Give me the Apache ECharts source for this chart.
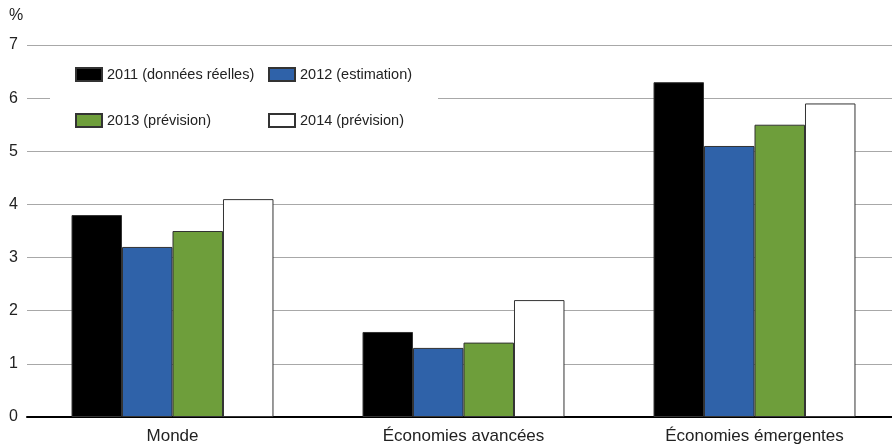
<!DOCTYPE html>
<html><head><meta charset="utf-8">
<script src="https://cdn.jsdelivr.net/npm/echarts@6/dist/echarts.min.js"></script>
<style>html,body{margin:0;padding:0;background:#fff}#c{width:892px;height:448px}</style>
</head><body><div id="c"></div>
<script>
const categories = ['Monde', 'Économies avancées', 'Économies émergentes'];
const seriesNames = ['2011 (données réelles)', '2012 (estimation)', '2013 (prévision)', '2014 (prévision)'];
const v2011 = [3.8, 1.6, 6.3];
const v2012 = [3.2, 1.3, 5.1];
const v2013 = [3.5, 1.4, 5.5];
const v2014 = [4.1, 2.2, 5.9];
const yTicks = [0, 1, 2, 3, 4, 5, 6, 7];
const colors = ['#000000', '#2f62a9', '#6e9e3b', '#ffffff'];
const values = [v2011, v2012, v2013, v2014];

const chart = echarts.init(document.getElementById('c'));
const font = 'Liberation Sans, Arial, sans-serif';
const legendPos = [[75, 67], [268, 67], [75, 113], [268, 113]];
chart.setOption({
  animation: false,
  textStyle: { fontFamily: font },
  graphic: [
    { type: 'rect', z: 5, shape: { x: 50, y: 57, width: 388, height: 78 }, style: { fill: '#fff' } },
    { type: 'text', left: 9, top: 8, style: { text: '%', font: '16px ' + font, fill: '#222' } }
  ],
  legend: seriesNames.map((n, i) => ({
    data: [{ name: n, icon: 'rect' }], left: legendPos[i][0], top: legendPos[i][1], itemWidth: 26, itemHeight: 13, itemGap: 0,
    z: 10, textStyle: { fontSize: 14.5, color: '#222', fontFamily: font, padding: [0, 0, 0, 0] }, padding: 0,
    selectedMode: false
  })),
  grid: { left: 27, width: 873, top: 45, height: 372, outerBoundsMode: 'none', containLabel: false },
  xAxis: {
    type: 'category', data: categories,
    axisLine: { lineStyle: { color: '#000', width: 2 } },
    axisTick: { show: false },
    axisLabel: { fontSize: 17, color: '#222', margin: 11 }
  },
  yAxis: {
    type: 'value', min: 0, max: 7, interval: 1,
    axisLine: { show: false }, axisTick: { show: false },
    axisLabel: { fontSize: 16, color: '#222', margin: 9, formatter: v => yTicks.includes(v) ? String(v) : '' },
    splitLine: { lineStyle: { color: '#a8a8a8', width: 1 } }
  },
  series: seriesNames.map((n, i) => ({
    name: n, type: 'bar', data: values[i],
    barGap: '0%', barCategoryGap: '30.6%',
    itemStyle: { color: colors[i], borderColor: '#333', borderWidth: 1 }
  }))
});
</script></body></html>
